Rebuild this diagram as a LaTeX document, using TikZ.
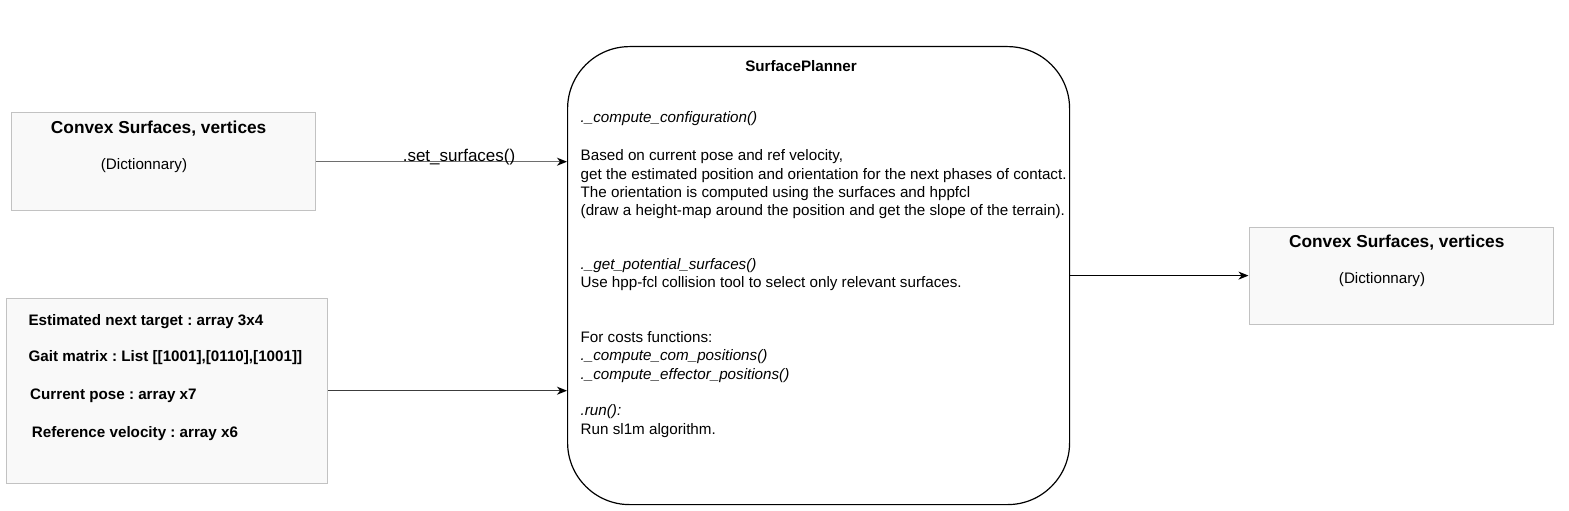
\documentclass[tikz,border=0pt]{standalone}
\usepackage{fontspec}
\setmainfont{Liberation Sans}
\usetikzlibrary{arrows.meta}
\frenchspacing
\definecolor{boxline}{HTML}{C2C2C2}
\definecolor{boxfill}{HTML}{F9F9F9}
\definecolor{lineg}{HTML}{6E6E6E}
\definecolor{lined}{HTML}{3C3C3C}
\tikzset{
  databox/.style={draw=boxline, fill=boxfill, line width=1.4pt, inner sep=0pt, anchor=north west},
  planner/.style={draw=black, line width=1.2pt, rounded corners=62pt, inner sep=0pt, anchor=north west},
  txt/.style={inner sep=0pt, anchor=base west, font=\fontsize{15.2}{18}\selectfont},
  txtc/.style={inner sep=0pt, anchor=base, font=\fontsize{15.2}{18}\selectfont},
  ttl/.style={inner sep=0pt, anchor=base, font=\fontsize{17.3}{20}\selectfont\bfseries},
  btxt/.style={inner sep=0pt, anchor=base west, font=\fontsize{15.2}{18}\selectfont\bfseries},
  itxt/.style={inner sep=0pt, anchor=base west, font=\fontsize{15.2}{18}\selectfont\itshape},
  conn/.style={line width=1.3pt, -{Stealth[length=10pt,width=8pt,inset=3pt]}},
}
\begin{document}
\begin{tikzpicture}[x=1pt,y=-1pt]
\useasboundingbox[fill=white] (0,0) rectangle (1569,511);

% boxes
\node[databox, minimum width=304pt, minimum height=98pt] (in1) at (10.5,112) {};
\node[databox, minimum width=321pt, minimum height=185pt] (in2) at (5.5,297.5) {};
\node[planner, minimum width=502pt, minimum height=458pt] (sp) at (567,46) {};
\node[databox, minimum width=304pt, minimum height=97.5pt] (out) at (1248.5,226.5) {};

% top-left box texts
\node[ttl] (in1t) at (158.7,133.3) {Convex Surfaces, vertices};
\node[txtc] (in1d) at (144,169.3) {(Dictionnary)};

% bottom-left box texts
\node[btxt] (e1) at (28.3,325.7) {Estimated next target : array 3x4};
\node[btxt] (e2) at (28.3,361) {Gait matrix : List [[1001],[0110],[1001]]};
\node[btxt] (e3) at (30,399.3) {Current pose : array x7};
\node[btxt] (e4) at (31.7,437.7) {Reference velocity : array x6};

% right box texts
\node[ttl] (outt) at (1396.7,247.3) {Convex Surfaces, vertices};
\node[txtc] (outd) at (1382,283.3) {(Dictionnary)};

% planner texts
\node[inner sep=0pt, anchor=base, font=\fontsize{15.2}{18}\selectfont\bfseries] (spt) at (801,71.7) {SurfacePlanner};
\node[itxt] (l1) at (580.5,122.5) {.\_compute\_configuration()};
\node[txt] (l2) at (580.5,160.8) {Based on current pose and ref velocity,};
\node[txt] (l3) at (580.5,179.1) {get the estimated position and orientation for the next phases of contact.};
\node[txt] (l4) at (580.5,197.4) {The orientation is computed using the surfaces and hppfcl};
\node[txt] (l5) at (580.5,215.7) {(draw a height-map around the position and get the slope of the terrain).};
\node[itxt] (l6) at (580.5,269.4) {.\_get\_potential\_surfaces()};
\node[txt] (l7) at (580.5,287.7) {Use hpp-fcl collision tool to select only relevant surfaces.};
\node[txt] (l8) at (580.5,342.6) {For costs functions:};
\node[itxt] (l9) at (580.5,360.9) {.\_compute\_com\_positions()};
\node[itxt] (l10) at (580.5,379.2) {.\_compute\_effector\_positions()};
\node[itxt] (l11) at (580.5,415.8) {.run():};
\node[txt] (l12) at (580.5,434.4) {Run sl1m algorithm.};

% connectors
\draw[conn, draw=lineg, -{Stealth[length=10pt,width=8pt,inset=3pt,black]}] (in1.east) -- node[pos=0.57, anchor=base, inner sep=0pt, font=\fontsize{17}{20}\selectfont] (lbl) {.set\_surfaces()} (sp.west |- in1.east);
\draw[conn, draw=lined, -{Stealth[length=10pt,width=8pt,inset=3pt,black]}] (in2.east) -- (sp.west |- in2.east);
\draw[conn, draw=black] (sp.east) -- (out.west |- sp.east);
\end{tikzpicture}
\end{document}
